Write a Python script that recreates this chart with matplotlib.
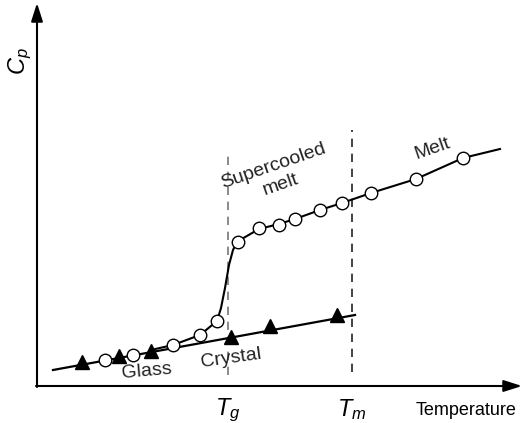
import matplotlib
matplotlib.use("Agg")
import matplotlib.pyplot as plt
import numpy as np

plt.rcParams['font.family'] = ['Liberation Sans', 'DejaVu Sans']
plt.rcParams['mathtext.fontset'] = 'custom'
plt.rcParams['mathtext.it'] = 'Liberation Sans:italic'
plt.rcParams['mathtext.rm'] = 'Liberation Sans'

# Data in figure-pixel-like units (temperature -> x, Cp -> 423 - y)
crystal_line_T = [53, 355]
crystal_line_cp = [423 - 370, 423 - 315]
crystal_T = [82, 119, 151, 231, 270, 337]
crystal_cp = [423 - 362, 423 - 356, 423 - 351, 423 - 337, 423 - 326, 423 - 315]

glass_curve_T = [151, 173, 200, 217, 221, 225, 229, 233, 236, 240, 259, 279, 295, 320, 342, 371, 416, 463, 500]
glass_curve_cp = [423 - 350, 423 - 345, 423 - 335, 423 - 321, 423 - 308, 423 - 288, 423 - 265, 423 - 250, 423 - 244, 423 - 240,
                  423 - 229, 423 - 224, 423 - 219, 423 - 210, 423 - 203, 423 - 193, 423 - 179, 423 - 158, 423 - 149]
circle_T = [105, 133, 173, 200, 217, 238, 259, 279, 295, 320, 342, 371, 416, 463]
circle_cp = [423 - 360, 423 - 355, 423 - 345, 423 - 335, 423 - 321, 423 - 242, 423 - 228, 423 - 225, 423 - 219,
             423 - 210, 423 - 203, 423 - 193, 423 - 179, 423 - 158]
Tg = 228
Tm = 352

fig = plt.figure(figsize=(5.24, 4.23), dpi=100)
ax = fig.add_axes([0, 0, 1, 1])
ax.set_xlim(0, 524)
ax.set_ylim(0, 423)
ax.axis('off')

# axes arrows
ax.annotate('', xy=(37, 423 - 3), xytext=(37, 423 - 387),
            arrowprops=dict(arrowstyle='-|>,head_length=1.1,head_width=0.35', lw=1.5, color='black', shrinkA=0, shrinkB=0))
ax.annotate('', xy=(522, 423 - 386), xytext=(36, 423 - 386),
            arrowprops=dict(arrowstyle='-|>,head_length=1.1,head_width=0.35', lw=1.5, color='black', shrinkA=0, shrinkB=0))

# dashed lines
ax.plot([Tg, Tg], [423 - 375, 423 - 155], ls=(0, (5, 4)), color='#777777', lw=1.2)
ax.plot([Tm, Tm], [423 - 372, 423 - 130], ls=(0, (5, 4)), color='#222222', lw=1.2)

# crystal line and markers
ax.plot(crystal_line_T, crystal_line_cp, color='black', lw=1.6)
ax.plot(crystal_T, crystal_cp, ls='none', marker='^', ms=9.5, color='black')

# glass / melt curve
ax.plot(glass_curve_T, glass_curve_cp, color='black', lw=1.5)
ax.plot(circle_T, circle_cp, ls='none', marker='o', ms=9, mfc='white', mec='black', mew=1.0)

# labels
ax.text(20, 423 - 61, r'$C_p$', fontsize=17, rotation=90, ha='center', va='center')
ax.text(228, 423 - 410, r'$T_g$', fontsize=17, ha='center', va='center')
ax.text(352, 423 - 410, r'$T_m$', fontsize=17, ha='center', va='center')
ax.text(466, 423 - 410, 'Temperature', fontsize=13, ha='center', va='center')
ax.text(277, 423 - 175, 'Supercooled\nmelt', fontsize=14, rotation=19, ha='center', va='center',
        rotation_mode='anchor', linespacing=1.2, color='#222222')
ax.text(432, 423 - 149, 'Melt', fontsize=14, rotation=19, ha='center', va='center', rotation_mode='anchor', color='#222222')
ax.text(147, 423 - 371, 'Glass', fontsize=14, rotation=5, ha='center', va='center', rotation_mode='anchor', color='#222222')
ax.text(231, 423 - 358, 'Crystal', fontsize=14, rotation=8, ha='center', va='center', rotation_mode='anchor', color='#222222')

fig.savefig('out.png', dpi=100)
